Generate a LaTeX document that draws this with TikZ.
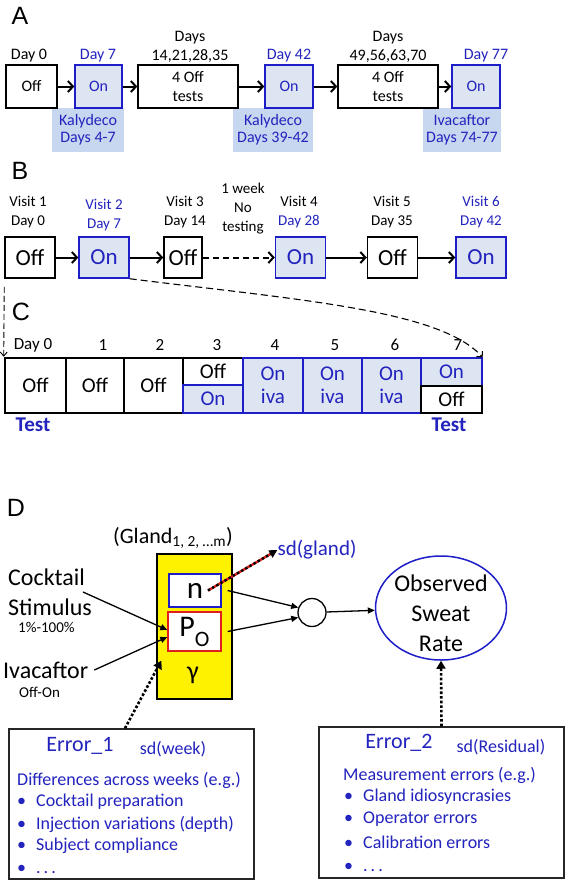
\documentclass[tikz,border=0pt]{standalone}
\usepackage{fontspec}
\setmainfont{Carlito}
\newfontfamily\panelfont{Liberation Sans}
\usetikzlibrary{arrows.meta,shapes.geometric}
\definecolor{txtblue}{RGB}{35,35,190}
\definecolor{boxblue}{RGB}{30,30,200}
\definecolor{onfill}{RGB}{221,229,243}
\definecolor{drugfill}{RGB}{198,215,239}
\definecolor{glandred}{RGB}{225,30,30}

\begin{document}
\begin{tikzpicture}[x=1pt,y=-1pt,
    every node/.style={inner sep=0pt,align=center},
    panel/.style={font=\panelfont\fontsize{25}{25}\selectfont},
    offbox/.style={draw=black,line width=1.5pt,fill=white,minimum width=49pt,minimum height=43pt},
    onbox/.style={offbox,draw=boxblue,fill=onfill,text=txtblue},
    drugbox/.style={fill=drugfill,text=txtblue,minimum height=44pt,font=\fontsize{16}{17}\selectfont},
    flow/.style={-{Straight Barb[length=5pt,width=11pt]},line width=2pt},
    cell/.style={draw=black,line width=1.3pt,fill=white,minimum height=55pt,font=\fontsize{21}{23}\selectfont},
    oncell/.style={cell,draw=boxblue,fill=onfill,text=txtblue},
    link/.style={-{Triangle[length=7pt,width=6pt]},line width=1.3pt},
    dots/.style={line width=2.6pt,dash pattern=on 2.6pt off 2pt,-{Triangle[length=8pt,width=9pt]}}]
    \fill[white] (0,0) rectangle (566,881);
    \useasboundingbox (0,0) rectangle (566,881);

    % A: timeline of the 77 days
    \begin{scope}[font=\fontsize{16}{19}\selectfont]
        \node[panel] (la) at (20,16) {A};
        \node[drugbox,minimum width=72pt] (kaly1) at (88,130) {Kalydeco\\Days 4-7};
        \node[drugbox,minimum width=80pt] (kaly2) at (273,130) {Kalydeco\\Days 39-42};
        \node[drugbox,minimum width=78pt] (ivac) at (462,130) {Ivacaftor\\Days 74-77};
        \node[offbox,minimum width=51pt] (a0) at (31.5,86.5) {Off};
        \node[onbox,minimum width=47pt] (a7) at (98.5,86.5) {On};
        \node[offbox,minimum width=100pt] (a14) at (188,86.5) {4 Off\\tests};
        \node[onbox,minimum width=48pt] (a42) at (289,86.5) {On};
        \node[offbox,minimum width=100pt] (a49) at (388,86.5) {4 Off\\tests};
        \node[onbox,minimum width=48pt] (a77) at (476,86.5) {On};
        \node at (29,56) {Day 0};
        \node[text=txtblue] at (98,56) {Day 7};
        \node at (190,47) {Days\\14,21,28,35};
        \node[text=txtblue] at (289,56) {Day 42};
        \node at (388,47) {Days\\49,56,63,70};
        \node[text=txtblue] at (486,56) {Day 77};
        \draw[flow] (a0) -- (a7);
        \draw[flow] (a7) -- (a14);
        \draw[flow] (a14) -- (a42);
        \draw[flow] (a42) -- (a49);
        \draw[flow] (a49) -- (a77);
    \end{scope}

    % B: six visits
    \begin{scope}[font=\fontsize{15}{19}\selectfont,
        bbox/.style={minimum height=41pt,font=\fontsize{23}{23}\selectfont}]
        \node[panel] (lb) at (20,171) {B};
        \node[offbox,bbox,minimum width=50pt] (b1) at (30,257.5) {Off};
        \node[onbox,bbox,minimum width=50pt] (b2) at (104,257.5) {On};
        \node[offbox,bbox,minimum width=38pt] (b3) at (183,257.5) {Off};
        \node[onbox,bbox,minimum width=50pt] (b4) at (300.5,257.5) {On};
        \node[offbox,bbox,minimum width=50pt] (b5) at (392.5,257.5) {Off};
        \node[onbox,bbox,minimum width=50pt] (b6) at (481,257.5) {On};
        \node at (28,212) {Visit 1\\Day 0};
        \node[text=txtblue] at (104,215) {Visit 2\\Day 7};
        \node at (185,212) {Visit 3\\Day 14};
        \node at (243,209) {1 week\\No\\testing};
        \node at (299,212) {Visit 4\\\textcolor{txtblue}{Day 28}};
        \node at (392,212) {Visit 5\\Day 35};
        \node[text=txtblue] at (481,212) {Visit 6\\Day 42};
        \draw[flow] (b1) -- (b2);
        \draw[flow] (b2) -- (b3);
        \draw[flow,dash pattern=on 6pt off 4pt] (b3) -- (b4);
        \draw[flow] (b4) -- (b5);
        \draw[flow] (b5) -- (b6);
    \end{scope}

    % C: one week in detail
    \begin{scope}[font=\fontsize{17}{17}\selectfont]
        \node[panel] (lc) at (21,312) {C};
        \node at (33,345) {Day 0};
        \node at (103,345) {1};
        \node at (160,345) {2};
        \node at (217,345) {3};
        \node at (275,345) {4};
        \node at (335,345) {5};
        \node at (395,345) {6};
        \node at (458,345) {7};
        \node[cell,minimum width=58pt] (c1) at (95,385.5) {Off};
        \node[cell,minimum width=59pt] (c2) at (153.5,385.5) {Off};
        \node[cell,line width=2.6pt,minimum width=61pt] (c0) at (35.5,385.5) {Off};
        \node[cell,minimum width=60pt,minimum height=27pt] (c3off) at (213,371.5) {Off};
        \node[oncell,minimum width=60pt,minimum height=28pt] (c3on) at (213,399) {On};
        \node[oncell,minimum width=60pt] (c4) at (273,385.5) {On\\iva};
        \node[oncell,minimum width=59pt] (c5) at (332.5,385.5) {On\\iva};
        \node[oncell,minimum width=59pt] (c6) at (391.5,385.5) {On\\iva};
        \node[oncell,minimum width=61pt,minimum height=28pt] (c7on) at (451.5,372) {On};
        \node[cell,line width=2.6pt,minimum width=61pt,minimum height=27pt] (c7off) at (451.5,399.5) {Off};
        \node[text=txtblue,font=\bfseries\fontsize{21}{21}\selectfont] (test0) at (33,425) {Test};
        \node[text=txtblue,font=\bfseries\fontsize{21}{21}\selectfont] (test7) at (449,425) {Test};
    \end{scope}
    \draw[dash pattern=on 6pt off 3pt,line width=0.9pt,-{Straight Barb[length=4pt,width=7pt]}]
        ([yshift=-8pt]b1.south west) -- (c0.north west);
    \draw[dash pattern=on 7pt off 4pt,line width=1.1pt,-{Straight Barb[length=4pt,width=8pt]}]
        (b2.south east) .. controls (300,300) and (440,310) .. (c7on.north east);

    % D: model of the sweat rate
    \node[panel] (ld) at (16,508) {D};
    \node[draw=black,line width=1.3pt,fill=yellow,minimum width=75pt,minimum height=145pt] (gland) at (194.5,626.5) {};
    \node[font=\fontsize{22}{22}\selectfont] (glandlbl) at (173,538) {(Gland\textsubscript{1, 2, \ldots m})};
    \node[draw=boxblue,line width=1.3pt,fill=white,minimum width=52pt,minimum height=33pt,
        font=\fontsize{31}{31}\selectfont] (nbox) at (195,590.5) {n};
    \node[draw=glandred,line width=1.3pt,fill=white,minimum width=53pt,minimum height=39pt,
        font=\fontsize{30}{30}\selectfont] (pbox) at (194.5,631.5) {P\raisebox{-10pt}{\fontsize{22}{22}\selectfont O}};
    \node[font=\fontsize{26}{26}\selectfont] (gam) at (193,675) {γ};
    \node[anchor=west,align=left,font=\fontsize{24}{30}\selectfont] (cocktail) at (8,592) {Cocktail\\Stimulus};
    \node[anchor=west,font=\fontsize{15}{15}\selectfont] (pct) at (18,627) {1\%-100\%};
    \node[anchor=west,font=\fontsize{24}{24}\selectfont] (ivatxt) at (3,670) {Ivacaftor};
    \node[anchor=west,font=\fontsize{15}{15}\selectfont] (offon) at (19,692) {Off-On};
    \coordinate (cockend) at (83,592);
    \draw[link] (cockend) -- ([yshift=1.5pt]pbox.west);
    \draw[link] ([xshift=6pt]ivatxt.east) -- ([yshift=-5.5pt]pbox.west);
    \node[text=txtblue,font=\fontsize{21}{21}\selectfont] (sdgland) at (317,550) {sd(gland)};
    \draw[glandred,line width=2.4pt,shorten >=6pt] ([xshift=13pt]nbox.center) -- (sdgland.west);
    \draw[line width=2.4pt,dash pattern=on 2.4pt off 2.4pt,-{Triangle[length=8pt,width=8pt]}]
        ([xshift=13pt]nbox.center) -- (sdgland.west);
    \node[circle,draw,line width=1.3pt,minimum size=28pt] (sumc) at (312,612.5) {};
    \draw[link] ([xshift=6pt]nbox.east) -- (sumc.160);
    \draw[link] ([xshift=6pt]pbox.east) -- (sumc.200);
    \node[ellipse,draw=boxblue,line width=1.5pt,minimum width=131pt,minimum height=104pt] (obs) at (441,608) {};
    \node[font=\fontsize{24}{30}\selectfont] (obstxt) at (441,613) {Observed\\Sweat\\Rate};
    \draw[link] (sumc) -- (obs);

    % error terms
    \node[draw=black!85,line width=1.5pt,minimum width=245pt,minimum height=150pt] (err1) at (131.5,804) {};
    \node[text=txtblue,font=\fontsize{22}{22}\selectfont] (e1head) at (80,746) {Error\_1};
    \node[text=txtblue,font=\fontsize{18}{18}\selectfont] (e1sd) at (173,749) {sd(week)};
    \begin{scope}[every node/.style={anchor=west,text=txtblue,inner sep=0pt,font=\fontsize{18}{18}\selectfont}]
        \node (e1txt) at (17,780) {Differences across weeks (e.g.)};
        \node (e1a) at (17,802) {\makebox[19pt][l]{\textbullet}Cocktail preparation};
        \node (e1b) at (17,824) {\makebox[19pt][l]{\textbullet}Injection variations (depth)};
        \node (e1c) at (17,846) {\makebox[19pt][l]{\textbullet}Subject compliance};
        \node (e1d) at (17,869) {\makebox[19pt][l]{\textbullet}.\,.\,.};
    \end{scope}
    \node[draw=black!85,line width=1.5pt,minimum width=245pt,minimum height=151pt] (err2) at (441.5,802.5) {};
    \node[text=txtblue,font=\fontsize{22}{22}\selectfont] (e2head) at (399,743) {Error\_2};
    \node[text=txtblue,font=\fontsize{18}{18}\selectfont] (e2sd) at (501,747) {sd(Residual)};
    \begin{scope}[every node/.style={anchor=west,text=txtblue,inner sep=0pt,font=\fontsize{18}{18}\selectfont}]
        \node (e2txt) at (343,775) {Measurement errors (e.g.)};
        \node (e2a) at (344,797) {\makebox[19pt][l]{\textbullet}Gland idiosyncrasies};
        \node (e2b) at (344,819) {\makebox[19pt][l]{\textbullet}Operator errors};
        \node (e2c) at (344,842) {\makebox[19pt][l]{\textbullet}Calibration errors};
        \node (e2d) at (344,867) {\makebox[19pt][l]{\textbullet}.\,.\,.};
    \end{scope}
    \draw[dots] ([xshift=-6.5pt]err1.north) -- ([xshift=5pt,yshift=39pt]gland.south west);
    \draw[dots] (err2.north) -- (obs.south);
\end{tikzpicture}
\end{document}
